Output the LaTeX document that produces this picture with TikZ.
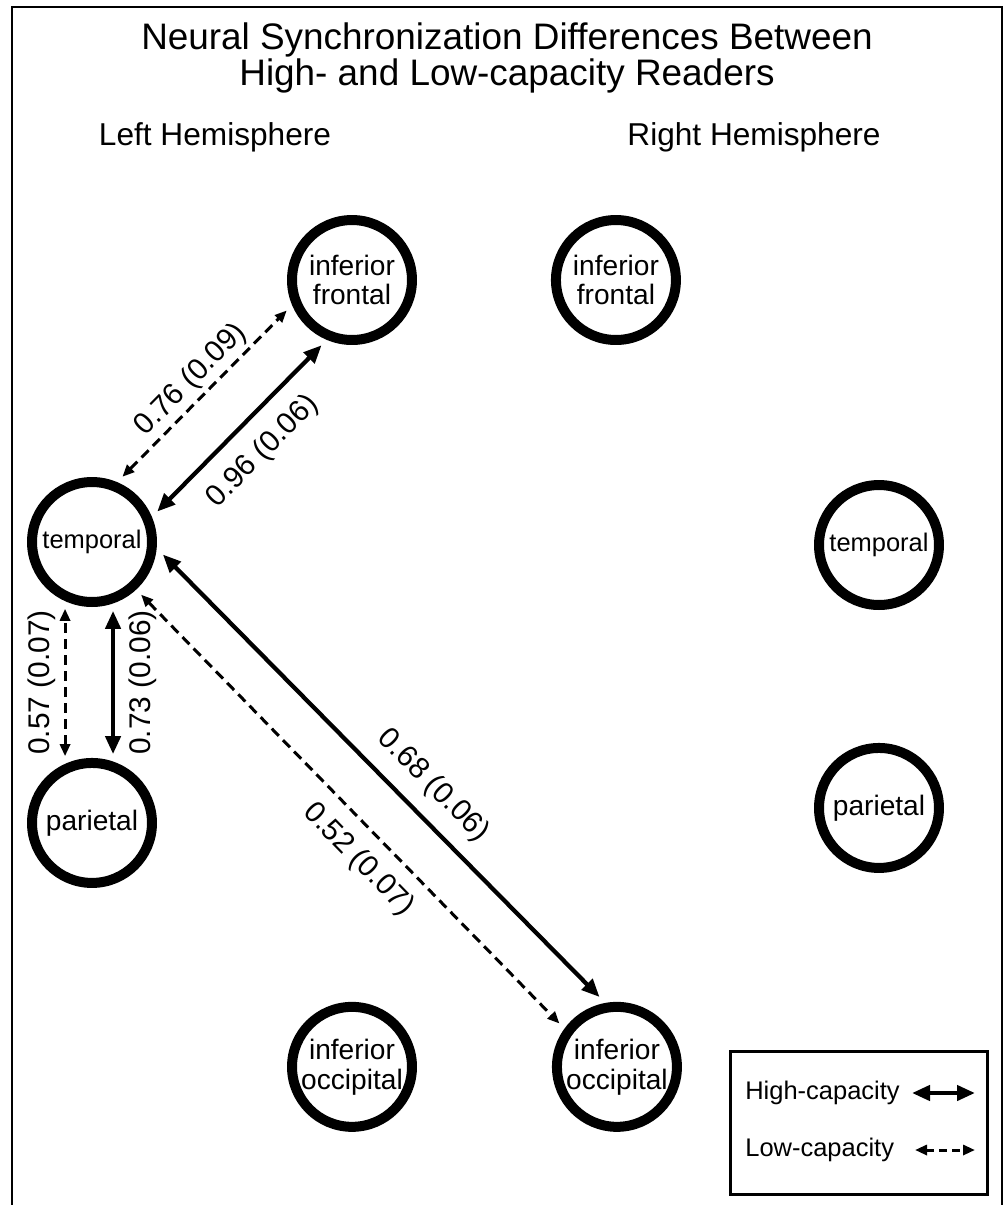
\documentclass[tikz,border=0pt]{standalone}
\usepackage{fontspec}
\setmainfont{Liberation Sans}
\usepackage{tikz}
\usetikzlibrary{shapes,arrows.meta}
\tikzstyle{area} = [circle, draw, line width=0.2cm, minimum size=2.4cm,
    inner sep=0pt, outer sep=0.24cm, align=center, font=\fontsize{16}{17}\selectfont]
\tikzstyle{heading} = [inner sep=0pt, font=\fontsize{18}{20}\selectfont]
\tikzstyle{highline} = [draw, line width=0.085cm,
    {Triangle[length=0.36cm,width=0.3cm]}-{Triangle[length=0.36cm,width=0.3cm]}]
\tikzstyle{lowline} = [draw, line width=0.06cm, dash pattern=on 0.2cm off 0.12cm,
    {Triangle[length=0.24cm,width=0.2cm]}-{Triangle[length=0.24cm,width=0.2cm]}]
\tikzstyle{weight} = [inner sep=0pt, font=\fontsize{17}{18}\selectfont]
\tikzstyle{legendbox} = [rectangle, draw, line width=0.06cm,
    minimum width=5.16cm, minimum height=2.86cm]

\begin{document}
\begin{tikzpicture}[x=0.02cm, y=-0.02cm]
      \useasboundingbox (0,0) rectangle (1005,1205);
      \draw [line width=0.045cm] (12,1205) |- (1002,7) -- (1002,1205);

      \node [heading, align=center, font=\fontsize{21}{20.5}\selectfont] (title) at (507,58)
         {Neural Synchronization Differences Between\\High- and Low-capacity Readers};
      \node [heading] (lhemi) at (215,137) {Left Hemisphere};
      \node [heading] (rhemi) at (754,137) {Right Hemisphere};

      \node [area] (lif) at (352,280) {inferior\\frontal};
      \node [area, right of=lif, node distance=5.28cm] (rif) {inferior\\frontal};
      \node [area, font=\fontsize{14.5}{16}\selectfont] (ltemp) at (92,542) {temporal};
      \node [area, font=\fontsize{14.5}{16}\selectfont] (rtemp) at (879,545) {temporal};
      \node [area, below of=ltemp, node distance=5.62cm] (lpar) {parietal};
      \node [area, below of=rtemp, node distance=5.26cm] (rpar) {parietal};
      \node [area, below of=lif, node distance=15.74cm] (locc) {inferior\\occipital};
      \node [area, right of=locc, node distance=5.3cm] (rocc) {inferior\\occipital};

      \path [lowline] (ltemp.65) --
         node [weight, sloped, above=0.08cm] {0.76 (0.09)} (lif.205);
      \path [highline] (ltemp.25) --
         node [weight, sloped, below=0.34cm] {0.96 (0.06)} (lif.245);
      \path [lowline] (lpar.112) --
         node [weight, rotate=90, above=0.16cm] {0.57 (0.07)} (ltemp.248);
      \path [highline] (lpar.73) --
         node [weight, rotate=90, below=0.28cm] {0.73 (0.06)} (ltemp.287);
      \path [highline] (ltemp.350) --
         node [weight, sloped, above=0.28cm, pos=0.57] {0.68 (0.06)} (rocc.104);
      \path [lowline] (ltemp.313) --
         node [weight, sloped, below=0.28cm, pos=0.57] {0.52 (0.07)} (rocc.143);

      \node [legendbox] (legend) at (859,1123) {};
      \node [anchor=west, inner sep=0pt, font=\fontsize{14.5}{16}\selectfont] (hitext)
         at (745,1093) {High-capacity};
      \node [anchor=west, inner sep=0pt, font=\fontsize{14.5}{16}\selectfont] (lotext)
         at (745,1150) {Low-capacity};
      \coordinate (hiA) at (912,1093);
      \coordinate (hiB) at (975,1093);
      \coordinate (loA) at (915,1150);
      \coordinate (loB) at (975,1150);
      \path [highline] (hiA) -- (hiB);
      \path [lowline, dash pattern=on 0.16cm off 0.1cm] (loA) -- (loB);
   \end{tikzpicture}
\end{document}
